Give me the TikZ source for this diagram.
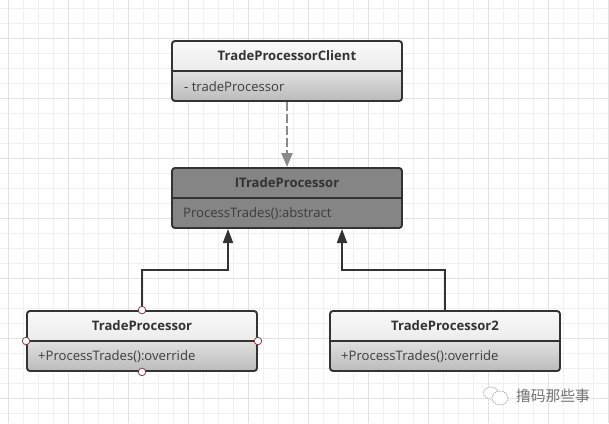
\documentclass[tikz,border=0pt]{standalone}
\usepackage{fontspec}
\setmainfont{Open Sans}
\newfontfamily\cjk{Noto Sans CJK SC}
\usetikzlibrary{arrows.meta,calc}
\definecolor{ink}{HTML}{333333}
\definecolor{gridminor}{HTML}{F0F0F0}
\definecolor{gridmajor}{HTML}{E2E2E2}
\definecolor{boxdark}{HTML}{858585}
\definecolor{boxgrey}{HTML}{8A8A8A}
\definecolor{handlered}{HTML}{8B3A3A}
\definecolor{shadeTop}{HTML}{F8F8F8}
\definecolor{shadeMid}{HTML}{E0E0E0}
\definecolor{shadeBot}{HTML}{BBBBBB}
\tikzset{
  x=1pt,y=-1pt,
  classbox/.style={draw=ink,line width=1.9pt,rounded corners=3pt,minimum width=230pt,minimum height=60pt,inner sep=0pt,
    path picture={
      \shade[top color=shadeTop,bottom color=shadeMid] (path picture bounding box.north west) rectangle (path picture bounding box.east);
      \shade[top color=shadeMid,bottom color=shadeBot] (path picture bounding box.west) rectangle (path picture bounding box.south east);
    }},
  solidbox/.style={draw=ink,line width=1.9pt,rounded corners=3pt,minimum width=230pt,minimum height=60pt,inner sep=0pt,fill=boxdark},
  divider/.style={draw=ink,line width=1.9pt},
  titletext/.style={font=\bfseries\fontsize{13.1}{15}\selectfont,text=ink,inner sep=0pt},
  membertext/.style={font=\fontsize{13.1}{15}\selectfont,text=ink!95!white,inner sep=0pt,anchor=west},
  inherit/.style={draw=ink,line width=2pt,-{Triangle[length=14pt,width=10pt]}},
  depend/.style={draw=boxgrey,line width=2pt,dash pattern=on 9pt off 3pt,-{Triangle[length=14pt,width=11pt]}},
  handle/.style={circle,draw=handlered,fill=white,line width=.8pt,minimum size=7.5pt,inner sep=0pt},
  mark glyph/.style={draw=gray!60,line width=.7pt,fill=white,dash pattern=on 2pt off .7pt},
}
\begin{document}
\begin{tikzpicture}
\useasboundingbox (0,0) rectangle (609,423);
\fill[white] (0,0) rectangle (609,423);
% grid
\foreach \g in {8,23,...,608} \draw[gridminor,line width=.9pt] (\g,0) -- (\g,423);
\foreach \g in {8,23,...,423} \draw[gridminor,line width=.9pt] (0,\g) -- (609,\g);
\foreach \g in {8,68,...,608} \draw[gridmajor,line width=.9pt] (\g,0) -- (\g,423);
\foreach \g in {38,98,...,398} \draw[gridmajor,line width=.9pt] (0,\g) -- (609,\g);
% classes
\node[classbox] (client) at (287,71) {};
\draw[divider] (client.west) -- (client.east);
\node[titletext] (clientT) at (287,56) {TradeProcessorClient};
\node[membertext] (clientM) at (184,86.5) {- tradeProcessor};
\node[solidbox] (itp) at (287,198) {};
\draw[divider] (itp.west) -- (itp.east);
\node[titletext] (itpT) at (287,183) {ITradeProcessor};
\node[membertext] (itpM) at (183,213.5) {ProcessTrades():abstract};
\node[classbox] (tp) at (142,341) {};
\draw[divider] (tp.west) -- (tp.east);
\node[titletext] (tpT) at (142,326) {TradeProcessor};
\node[membertext] (tpM) at (38,356.5) {+ProcessTrades():override};
\node[classbox] (tp2) at (445,341) {};
\draw[divider] (tp2.west) -- (tp2.east);
\node[titletext] (tp2T) at (445,326) {TradeProcessor2};
\node[membertext] (tp2M) at (341,356.5) {+ProcessTrades():override};
% connectors
\coordinate (itpA) at (228,229);
\coordinate (itpB) at (342,229);
\coordinate (bendA) at (142,270);
\coordinate (bendB) at (445,270);
\coordinate (clientOut) at (287,102);
\coordinate (itpIn) at (287,167);
\draw[depend] (clientOut) -- (itpIn);
\draw[inherit] (tp.north) -- (bendA) -| (itpA);
\draw[inherit] (tp2.north) -- (bendB) -| (itpB);
% selection handles
\node[handle] (h1) at (tp.north) {};
\node[handle] (h2) at (tp.south) {};
\node[handle] (h3) at (tp.west) {};
\node[handle] (h4) at (tp.east) {};
% watermark
\draw[mark glyph] (491,393) ellipse (7.5pt and 6pt);
\draw[mark glyph] (500,398) ellipse (8pt and 7pt);
\node[font=\cjk\fontsize{14.8}{16}\selectfont,text=gray!90!black,inner sep=0pt] (wm) at (553,395.5) {撸码那些事};
\end{tikzpicture}
\end{document}
